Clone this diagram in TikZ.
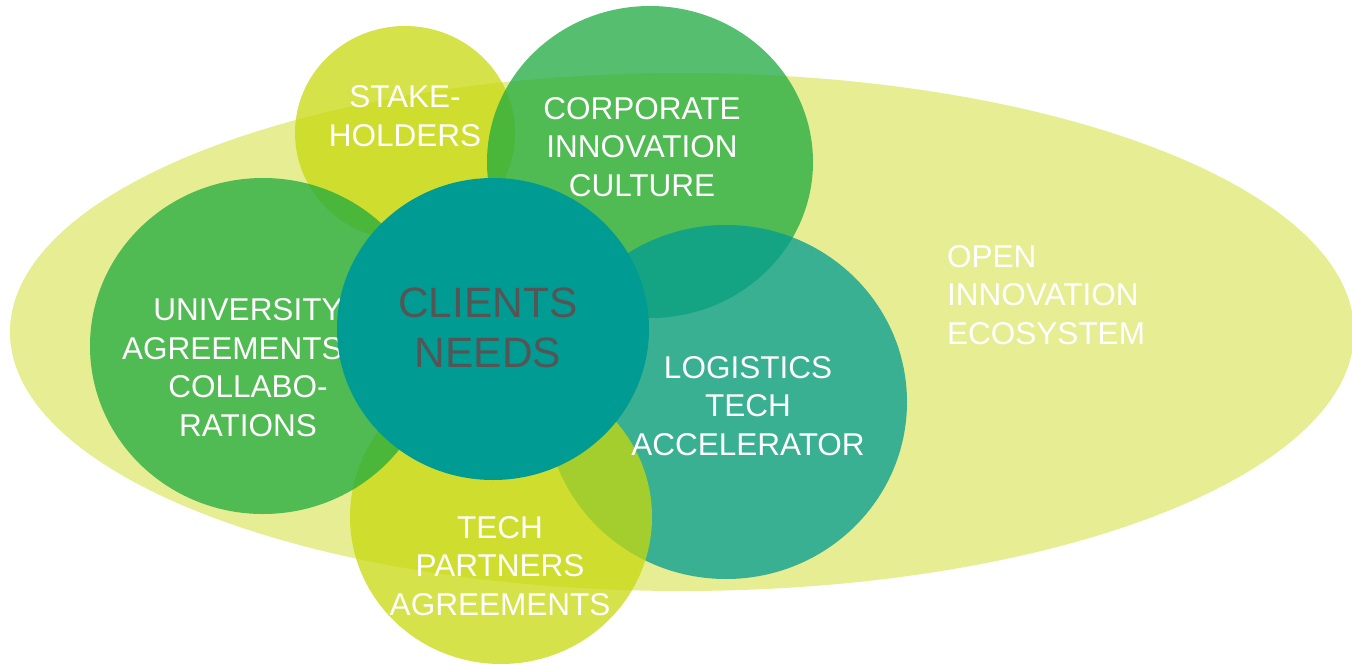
\documentclass[tikz,border=0pt]{standalone}
\usepackage{fontspec}
\setmainfont{Liberation Sans}
\definecolor{limefill}{RGB}{199,216,13}
\definecolor{greenfill}{RGB}{30,169,63}
\definecolor{tealfill}{RGB}{0,156,147}
\definecolor{needsgray}{RGB}{85,85,85}
\tikzset{
	blob/.style={fill=#1,fill opacity=0.75,draw=none},
	lbl/.style={text=white,font=\fontsize{31.5}{38.5}\selectfont,align=center,inner sep=0pt,anchor=base}
}

\begin{document}
\begin{tikzpicture}[x=1pt,y=-1pt]
	\useasboundingbox (0,0) rectangle (1352,664);
	
	\fill [limefill,fill opacity=0.45] (682,332) ellipse [x radius=672pt, y radius=259pt];
	\fill [blob=limefill] (405,133) ellipse [x radius=110pt, y radius=107pt];
	\fill [blob=greenfill] (650,162) ellipse [x radius=163pt, y radius=156pt];
	\fill [blob=tealfill] (726,402) ellipse [x radius=181pt, y radius=177pt];
	\fill [blob=limefill] (501,517) ellipse [x radius=151pt, y radius=147pt];
	\fill [blob=greenfill] (263,346) ellipse [x radius=173pt, y radius=168pt];
	
	% base anchor sits on the last line
	\node [lbl] (univ) at (248,436) {UNIVERSITY\\\makebox[252pt][l]{AGREEMENTS}\\COLLABO-\\RATIONS};
	
	\fill [tealfill] (493,329) ellipse [x radius=156pt, y radius=151pt];
	
	\node [lbl] (stake) at (405,146) {STAKE-\\HOLDERS};
	\node [lbl] (corp) at (642,196) {CORPORATE\\INNOVATION\\CULTURE};
	\node [lbl] (needs) at (488,367) [text=needsgray,font=\fontsize{42.5}{50}\selectfont] {CLIENTS\\NEEDS};
	\node [lbl] (logi) at (748,455) {LOGISTICS\\TECH\\ACCELERATOR};
	\node [lbl] (partners) at (500,615) {TECH\\PARTNERS\\AGREEMENTS};
	\node [lbl,align=left,anchor=base west] (open) at (947,344) {OPEN\\INNOVATION\\ECOSYSTEM};
\end{tikzpicture}
\end{document}
